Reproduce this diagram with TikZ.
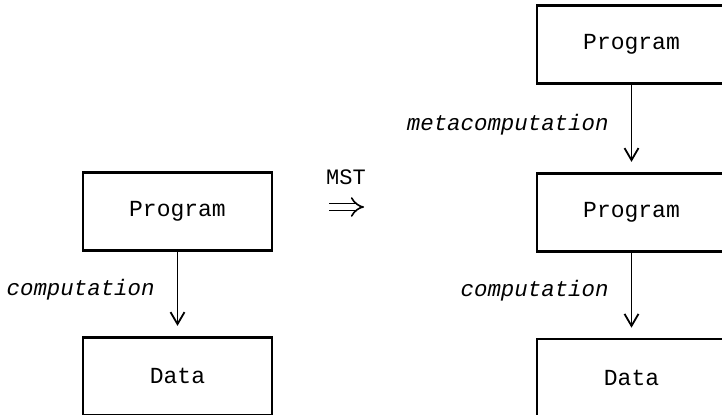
\documentclass[tikz,border=0pt]{standalone}
\usepackage{fontspec}
\setmonofont{Liberation Mono}
\usetikzlibrary{positioning}
\usetikzlibrary{arrows.meta}

\begin{document}
\begin{tikzpicture}[
    box/.style={draw, line width=1.4pt, minimum width=94.5pt, minimum height=39pt,
        font=\ttfamily\fontsize{11.5}{14}\selectfont},
    flow/.style={-{Straight Barb[length=6pt,width=7pt]}, line width=0.9pt, shorten >=5pt},
    lbl/.style={font=\ttfamily\itshape\fontsize{11.2}{14}\selectfont, left=7.7pt, yshift=2pt}
]

    \useasboundingbox (0,0) rectangle (361pt,-207.5pt);

    %L: program run on data
    \node[box] (prog) at (88.75pt,-105.75pt) {Program};
    \node[box, below = 42pt of prog] (data) {Data};

    % ------------------

    % metasystem transition
    \node (mst) at (173pt,-88.5pt) {\ttfamily\fontsize{11}{13}\selectfont MST};
    \coordinate (impl) at (164.5pt,-103.5pt);
    \coordinate (impr) at (182pt,-103.5pt);
    \draw[double, double distance=2.6pt, line width=0.8pt, -{Implies}] (impl) -- (impr);

    % ------------------

    %R: program run on program run on data
    \node[box] (mprog) at (315.75pt,-22.25pt) {Program};
    \node[box, below = 43.5pt of mprog] (mprog2) {Program};
    \node[box, below = 42.5pt of mprog2] (mdata) {Data};

    % arrows
    \draw[flow] (prog) -- node[lbl] {computation} (data);
    \draw[flow] (mprog) -- node[lbl] {metacomputation} (mprog2);
    \draw[flow] (mprog2) -- node[lbl] {computation} (mdata);
\end{tikzpicture}
\end{document}
